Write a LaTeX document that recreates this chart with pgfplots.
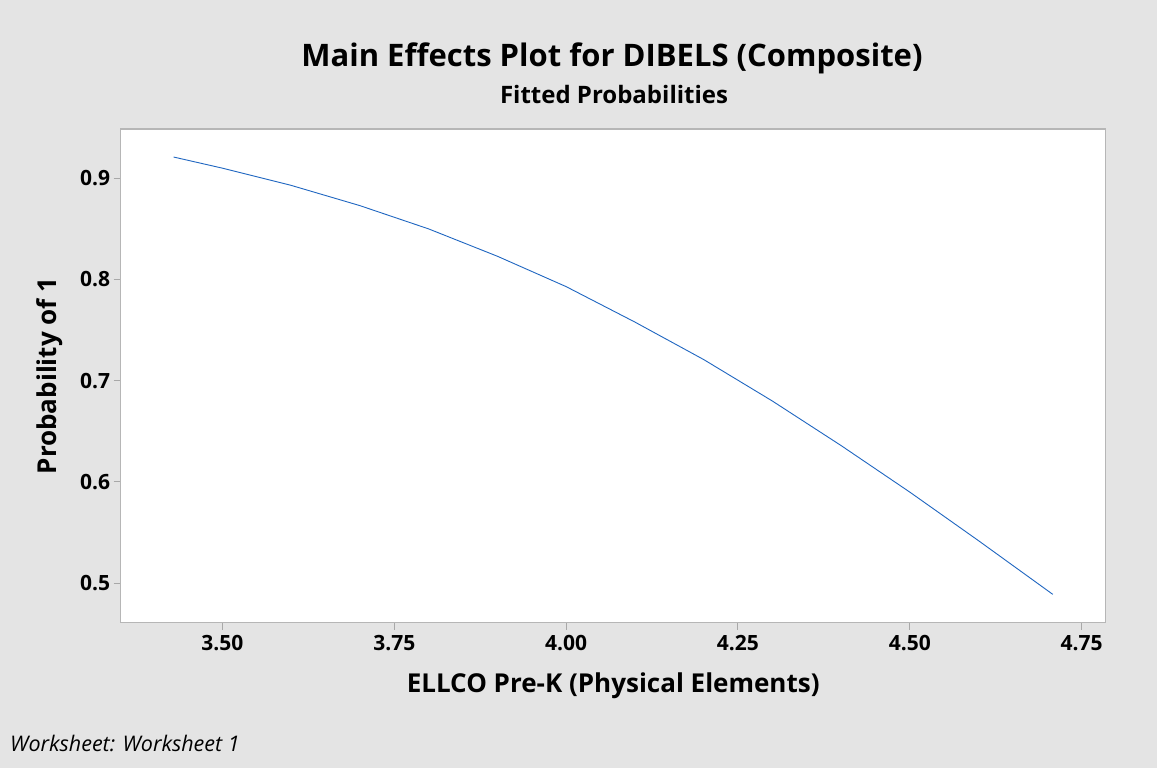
\documentclass[border=0pt]{standalone}
\usepackage{pgfplots}
\pgfplotsset{compat=1.18}
\usepackage{fontspec}
\setmainfont{Open Sans}

\definecolor{bggray}{HTML}{E4E4E4}
\definecolor{framegray}{HTML}{B6B6B6}
\definecolor{tickgray}{HTML}{A8A8A8}
\definecolor{fitblue}{HTML}{1F66C1}

\begin{document}
\begin{tikzpicture}[x=1pt,y=1pt]
% page background (Minitab grey)
\fill[bggray] (0,0) rectangle (1157,768);

\node[font=\fontsize{31}{36}\selectfont\bfseries] at (612,710) {Main Effects Plot for DIBELS (Composite)};
\node[font=\fontsize{24}{28}\selectfont\bfseries] at (614,673) {Fitted Probabilities};
\node[anchor=base west, inner sep=0pt, font=\fontsize{21.5}{25}\selectfont\itshape] at (10,16) {Worksheet: Worksheet 1};

\begin{axis}[
	at={(120.7pt,145.3pt)}, anchor=south west,
	scale only axis,
	width=985pt, height=493.7pt,
	xmin=3.352, xmax=4.785,
	ymin=0.461, ymax=0.9487,
	axis background/.style={fill=white},
	axis line style={framegray, line width=1.3pt},
	xtick={3.5,3.75,4,4.25,4.5,4.75},
	ytick={0.5,0.6,0.7,0.8,0.9},
	xtick pos=bottom, ytick pos=left,
	tick align=outside,
	major tick length=7pt,
	tick style={tickgray, line width=1pt},
	/pgf/number format/assume math mode=true,
	xticklabel style={/pgf/number format/.cd, fixed, fixed zerofill, precision=2, /tikz/.cd,
		font=\fontsize{21}{24}\selectfont\bfseries, yshift=-2pt},
	yticklabel style={/pgf/number format/.cd, fixed, fixed zerofill, precision=1, /tikz/.cd,
		font=\fontsize{21}{24}\selectfont\bfseries},
	xlabel={ELLCO Pre-K (Physical Elements)},
	ylabel={Probability of 1},
	label style={font=\fontsize{26}{30}\selectfont\bfseries},
	xlabel style={at={(axis description cs:0.5,-0.128)}, anchor=center},
	ylabel style={at={(axis description cs:-0.072,0.5)}, anchor=center},
]
	% fitted probability curve
	\addplot[color=fitblue, line width=0.9pt] coordinates {
	( 3.429, 0.921 )
	( 3.500, 0.910 )
	( 3.600, 0.893 )
	( 3.700, 0.873 )
	( 3.800, 0.850 )
	( 3.900, 0.823 )
	( 4.000, 0.793 )
	( 4.100, 0.758 )
	( 4.200, 0.721 )
	( 4.300, 0.680 )
	( 4.400, 0.636 )
	( 4.500, 0.590 )
	( 4.600, 0.542 )
	( 4.708, 0.489 )
	};
\end{axis}
\end{tikzpicture}
\end{document}
